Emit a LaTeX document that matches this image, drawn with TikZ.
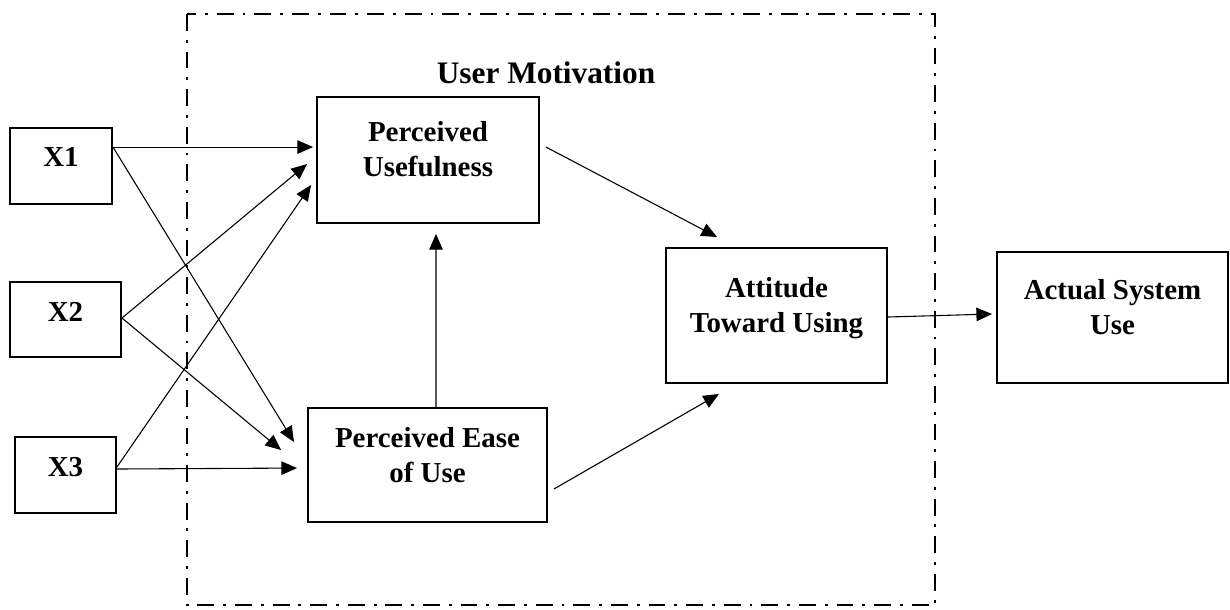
\documentclass[tikz,border=0pt]{standalone}
\usepackage{fontspec}
\setmainfont{Liberation Serif}
\usepackage{tikz}
\usetikzlibrary{arrows.meta, positioning, calc}
\newcommand{\pxu}{0.415pt}
\tikzset{
  varbox/.style       = {rectangle, draw, line width=0.8pt, inner sep=0pt},
  vartext/.style      = {inner sep=0pt, align=center,
                         font=\fontsize{12}{14.6}\selectfont\bfseries},
  link/.style         = {-{Triangle[length=6.5pt, width=5.6pt]}, line width=0.45pt},
  motivframe/.style   = {line width=0.8pt,
                         dash pattern=on 7pt off 3.7pt on 1.2pt off 3.7pt},
}

\begin{document}
\begin{tikzpicture}[x=\pxu, y=-\pxu]
  \useasboundingbox (0,0) rectangle (1230,609);
  % dash-dot frame and its title
  \draw[motivframe] (187,14) rectangle (935,605);
  \node[anchor=base, inner sep=0pt, font=\fontsize{13}{15}\selectfont\bfseries]
    (title) at (546,83) {User Motivation};
  % external variables
  \node[varbox, minimum width=102*\pxu, minimum height=76*\pxu] (x1) at (61,166) {};
  \node[varbox, minimum width=111*\pxu, minimum height=75*\pxu] (x2) at (65.5,319.5) {};
  \node[varbox, minimum width=101*\pxu, minimum height=76*\pxu] (x3) at (65.5,475) {};
  \node[vartext, below=8.1pt of x1.north] (x1t) {X1};
  \node[vartext, below=8.5pt of x2.north] (x2t) {X2};
  \node[vartext, below=8.5pt of x3.north] (x3t) {X3};
  % TAM constructs
  \node[varbox, minimum width=222*\pxu, minimum height=126*\pxu] (pu) at (428,160) {};
  \node[varbox, minimum width=239*\pxu, minimum height=114*\pxu] (peu) at (427.5,465) {};
  \node[varbox, minimum width=221*\pxu, minimum height=135*\pxu] (atu) at (776.5,315.5) {};
  \node[varbox, minimum width=231*\pxu, minimum height=131*\pxu] (asu) at (1112.5,317.5) {};
  \node[vartext, below=10.4pt of pu.north] (put) {Perceived\\Usefulness};
  \node[vartext, below=8.1pt of peu.north] (peut) {Perceived Ease\\of Use};
  \node[vartext, below=12.5pt of atu.north] (atut) {Attitude\\Toward Using};
  \node[vartext, below=11.6pt of asu.north] (asut) {Actual System\\Use};
  % paths
  \draw[link] ($(x1.north east)+(0,20)$) -- ($(pu.north west)+(-3,51)$);
  \draw[link] ($(x1.north east)+(0,20)$) -- ($(peu.north west)+(-13,35)$);
  \draw[link] ($(x2.east)+(0,-1.5)$) -- ($(pu.north west)+(-9,68)$);
  \draw[link] ($(x2.east)+(0,-1.5)$) -- ($(peu.north west)+(-26,43)$);
  \draw[link] ($(x3.east)+(0,-8)$) -- ($(pu.north west)+(-5,89)$);
  \draw[link] ($(x3.east)+(0,-6)$) -- ($(peu.north west)+(-10,61)$);
  \draw[link] ($(peu.north)+(8.5,0)$) -- ($(pu.south)+(8,10)$);
  \draw[link] ($(pu.north east)+(6,51)$) -- ($(atu.north west)+(52,-10)$);
  \draw[link] ($(peu.south east)+(6,-34)$) -- ($(atu.south west)+(54,10)$);
  \draw[link] ($(atu.east)+(0,1.5)$) -- ($(asu.west)+(-4,-3.5)$);
\end{tikzpicture}
\end{document}
